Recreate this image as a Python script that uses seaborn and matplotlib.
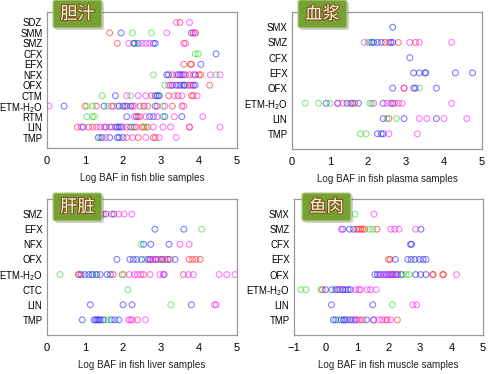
import pandas as pd
import matplotlib.pyplot as plt
import seaborn as sns
from matplotlib.patches import FancyBboxPatch
import matplotlib.patheffects as pe

# values per compound: (red, green, blue, magenta) groups
bile = {
    "SDZ": ([3.5], [], [], [3.4, 3.75]),
    "SMM": ([1.65, 3.85, 3.9], [2.25, 2.75], [1.95, 3.8], [3.15, 3.9]),
    "SMZ": ([1.85, 3.6], [2.3, 2.32], [2.28, 2.4, 2.8, 2.85], [2.15, 2.5, 2.6, 2.7, 3.65]),
    "CFX": ([], [3.9, 3.98], [4.45], []),
    "EFX": ([3.6, 3.78, 3.8], [], [4.05], []),
    "NFX": ([3.3, 3.55, 3.75, 4.0, 4.05], [2.8, 4.45], [3.15, 3.2, 3.45, 3.5, 3.6, 3.9],
            [3.4, 3.65, 3.85, 4.3, 4.55]),
    "OFX": ([3.25, 3.7, 3.8, 4.28], [3.1, 3.55], [3.3, 3.4, 3.5, 3.6, 3.62, 3.85, 3.9],
            [3.2, 3.45, 3.75]),
    "CTM": ([2.75, 3.2, 3.45, 3.8, 3.85], [1.45, 2.2, 2.95], [1.8, 2.85, 2.9, 2.95],
            [2.1, 2.4, 2.6, 3.35, 3.55, 3.95]),
    "ETM-H$_2$O": ([1.0, 1.3, 1.7, 2.05, 2.25, 2.45, 2.65, 2.9, 3.3, 3.55],
                   [1.05, 1.2, 1.6, 1.85, 2.55, 3.05],
                   [0.45, 1.5, 1.9, 2.0, 2.1, 2.2, 2.85],
                   [0.05, 1.75, 2.3, 2.55, 3.1, 3.6]),
    "RTM": ([2.4, 2.45], [1.05, 1.2, 1.25, 3.05], [2.1, 2.35, 2.7, 2.8, 3.1, 3.55],
            [2.3, 2.6, 2.9, 3.35, 4.1]),
    "LIN": ([0.8, 1.1, 1.2, 1.4, 1.7, 2.1, 2.3, 2.5, 2.55, 2.65, 3.75], [2.25, 2.6],
            [0.95, 1.55, 1.8, 1.85, 1.9, 1.95, 2.2],
            [0.9, 1.3, 1.5, 1.65, 2.0, 2.35, 2.8, 3.05, 3.25, 3.75, 4.55]),
    "TMP": ([2.1, 2.4, 2.8, 2.85], [1.4], [1.35, 1.45, 1.65, 1.85, 1.9, 2.0],
            [1.55, 2.25, 2.6, 2.95, 3.4]),
}

plasma = {
    "SMX": ([], [], [2.65], []),
    "SMZ": ([2.45, 2.55, 2.8, 3.25], [2.0, 2.05], [2.1, 2.15, 2.25, 2.35, 2.6, 2.65],
            [1.9, 3.1, 3.35, 4.2]),
    "CFX": ([], [], [3.1], []),
    "EFX": ([], [], [3.2, 3.35, 3.5, 3.52, 4.3, 4.75], []),
    "OFX": ([2.95], [3.35], [2.65, 3.2, 3.25, 3.8], [2.95]),
    "ETM-H$_2$O": ([1.35, 1.6, 1.65, 2.6, 2.8], [0.35, 0.7, 1.0, 2.05, 2.1],
                   [0.9, 1.2, 1.45, 1.55, 1.75, 2.4, 2.65],
                   [1.2, 2.15, 2.5, 2.7, 2.9, 4.2]),
    "LIN": ([2.55], [2.5, 2.75], [2.4, 2.95, 3.8], [3.35, 3.55, 4.0, 4.6]),
    "TMP": ([], [1.8, 1.95], [2.25, 2.35, 2.4], [2.55, 3.3]),
}

liver = {
    "SMZ": ([1.48, 1.7], [], [1.55, 1.76], [1.42, 1.89, 2.03, 2.23]),
    "EFX": ([], [4.07], [2.84, 3.6], []),
    "NFX": ([], [2.47], [2.54, 2.73, 3.21], [3.5, 3.74]),
    "OFX": ([2.78, 2.93, 3.11, 3.24, 3.74, 3.83, 3.92, 4.03], [2.58, 3.0],
            [1.84, 2.18, 2.27, 2.36, 2.49, 2.66, 2.72, 2.85, 3.02, 3.18, 3.37],
            [2.7, 2.88, 3.05]),
    "ETM-H$_2$O": ([0.82, 0.85, 1.74, 1.98, 2.54, 3.59], [0.34, 1.18, 1.31, 2.03],
                   [0.9, 1.0, 1.1, 1.2, 1.3, 1.4, 1.58, 1.67, 3.08],
                   [2.16, 2.3, 2.38, 2.47, 2.71, 2.97, 3.06, 3.72, 3.85, 4.53, 4.73, 4.95]),
    "CTC": ([], [2.13], [], []),
    "LIN": ([], [3.26], [1.14, 2.0, 2.24, 3.8], [4.41, 4.45]),
    "TMP": ([2.38], [1.52, 1.61], [0.93, 1.24, 1.28, 1.32, 1.36, 1.4, 1.47, 1.7, 1.79, 1.89],
            [2.15, 2.2, 2.24, 2.59]),
}

muscle = {
    "SMX": ([], [0.94], [], [1.54]),
    "SMZ": ([0.99, 1.05, 1.12, 1.18, 1.25, 1.63], [1.4, 1.5], [0.55, 0.76, 0.89, 3.03],
            [0.5, 2.07, 2.2, 2.33, 2.86]),
    "CFX": ([], [], [2.7, 2.73], []),
    "EFX": ([2.0, 2.05], [], [2.22, 2.61, 2.72, 2.84, 2.98, 3.1, 3.19], []),
    "OFX": ([2.1, 2.3, 3.4, 3.42, 3.72, 3.75], [2.45, 2.56, 2.66],
            [1.57, 1.65, 1.75, 1.85, 1.95, 2.05, 2.15, 2.25, 2.4, 2.86, 3.02, 3.19],
            [1.7, 1.9, 2.0, 2.2, 4.16]),
    "ETM-H$_2$O": ([-0.1, 0.55], [-0.78, -0.62, -0.15, 0.3],
                   [0.0, 0.2, 0.35, 0.45, 0.55, 0.65, 0.72, 0.79],
                   [0.4, 0.95, 1.06, 1.11, 1.32, 1.43, 1.61]),
    "LIN": ([], [2.12], [0.19, 1.5], [2.77, 2.89]),
    "TMP": ([1.08, 1.18, 1.8, 1.96, 2.28], [0.4, 0.85],
            [0.25, 0.32, 0.5, 0.58, 0.62, 0.7, 0.8, 0.95, 1.3, 1.52],
            [0.9, 1.0, 1.54, 1.7, 1.91, 2.07]),
}

titles = ["胆汁", "血浆", "肝脏", "鱼肉"]
xlabels = ["Log BAF in fish blie samples", "Log BAF in fish plasma samples",
           "Log BAF in fish liver samples", "Log BAF in fish muscle samples"]
xranges = [(0, 5), (0, 5), (0, 5), (-1, 5)]

groups = ["r", "g", "b", "m"]
pal = {"r": "#ff2a2a", "g": "#33dd33", "b": "#2a2aff", "m": "#ff22ff"}

sns.set_style("white")
plt.rcParams["font.family"] = ["Liberation Sans", "DejaVu Sans"]
plt.rcParams["mathtext.fontset"] = "custom"
plt.rcParams["mathtext.rm"] = "Liberation Sans"
plt.rcParams["mathtext.it"] = "Liberation Sans"
plt.rcParams["mathtext.default"] = "regular"

fig = plt.figure(figsize=(4.9, 3.74), dpi=100)

# axes boxes in pixels: left, right, top, bottom
boxes = [(47, 237, 12, 148), (292, 482, 12, 149), (47, 237, 199, 335), (294, 483, 199, 335)]
badges = [(53, 0), (298, 0), (53, 193), (302, 193)]

for k, data in enumerate([bile, plasma, liver, muscle]):
    rows = []
    for cpd, vals in data.items():
        for g, lst in zip(groups, vals):
            for v in lst:
                rows.append({"cpd": cpd, "val": v, "grp": g})
    df = pd.DataFrame(rows)
    order = list(data.keys())

    l, r, t, b = boxes[k]
    ax = fig.add_axes([l / 490, 1 - b / 374, (r - l) / 490, (b - t) / 374])
    sns.stripplot(data=df, x="val", y="cpd", hue="grp", order=order, hue_order=groups,
                  palette=pal, jitter=False, dodge=False, size=4.2, alpha=0.6,
                  legend=False, ax=ax)
    for coll in ax.collections:
        fc = coll.get_facecolors()
        coll.set_edgecolors(fc)
        coll.set_facecolors("none")
        coll.set_linewidth(0.8)

    ax.set_xlim(*xranges[k])
    ax.set_xticks(range(xranges[k][0], xranges[k][1] + 1))
    ax.set_ylim(len(order), -1)
    ax.set_ylabel("")
    ax.set_xlabel(xlabels[k], fontsize=7.1, color="#222222", labelpad=5)
    ax.tick_params(axis="both", colors="#999999", labelcolor="black",
                   length=2.5, width=0.8, direction="out")
    ax.tick_params(axis="y", labelsize=6.9, pad=0.8)
    ax.tick_params(axis="x", labelsize=8.0, pad=3)
    for s in ax.spines.values():
        s.set_color("#999999")
        s.set_linewidth(0.9)

    # green title badge
    bx, by = badges[k]
    shadow = FancyBboxPatch((bx / 100 + 0.02, 3.74 - (by + 28) / 100 - 0.02), 0.49, 0.28,
                            boxstyle="round,pad=0,rounding_size=0.025",
                            transform=fig.dpi_scale_trans, fc="#000000", ec="none",
                            alpha=0.18, zorder=5)
    box = FancyBboxPatch((bx / 100, 3.74 - (by + 28) / 100), 0.49, 0.28,
                         boxstyle="round,pad=0,rounding_size=0.025",
                         transform=fig.dpi_scale_trans, fc="#76a234", ec="#b7cc8a",
                         lw=0.8, zorder=6)
    fig.patches.extend([shadow, box])
    fig.text((bx + 24.5) / 490, 1 - (by + 14) / 374, titles[k], ha="center", va="center",
             fontsize=12.5, color="#fdf2d6", family=["Noto Sans CJK SC", "DejaVu Sans"],
             zorder=7,
             path_effects=[pe.withStroke(linewidth=1.6, foreground="#7a5520")])

fig.savefig("out.png", dpi=100)
